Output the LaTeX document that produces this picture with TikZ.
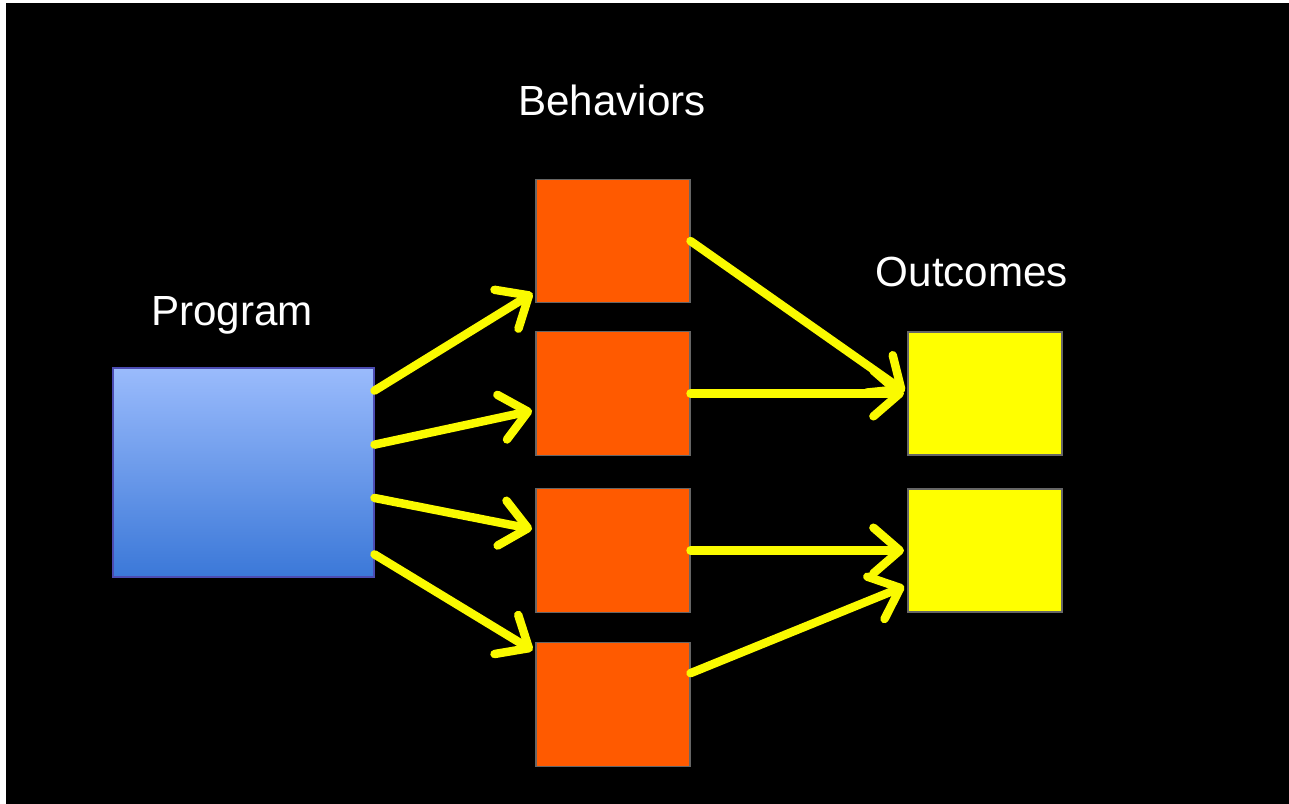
\documentclass[tikz,border=0pt]{standalone}
\usepackage{fontspec}
\setmainfont{Liberation Sans}
\usepackage{tikz}
\usetikzlibrary{
    positioning,
    arrows.meta
}
\definecolor{progtop}{HTML}{9ABBFC}
\definecolor{progbot}{HTML}{3B78D8}
\definecolor{behfill}{HTML}{FF5A00}
\definecolor{outfill}{HTML}{FFFF00}
\definecolor{linkcol}{HTML}{FAFA00}
\tikzset{
    >={Straight Barb[length=15pt,width=26pt,line cap=round,line join=round]},
    progbox/.style={
        rectangle,
        top color=progtop,
        bottom color=progbot,
        draw=gray!60!blue,
        line width=0.6pt,
        minimum width=5.22cm,
        minimum height=4.18cm
    },
    behbox/.style={
        rectangle,
        fill=behfill,
        draw=gray!80!black,
        line width=0.6pt,
        minimum width=3.08cm,
        minimum height=2.47cm
    },
    outbox/.style={
        rectangle,
        fill=outfill,
        draw=gray!80!black,
        line width=0.6pt,
        minimum width=3.08cm,
        minimum height=2.46cm
    },
    title/.style={
        text=white,
        font=\fontsize{24}{28}\selectfont
    },
    link/.style={
        ->,
        draw=linkcol,
        line width=4.8pt,
        line cap=round,
        shorten >=2pt
    }
}

\begin{document}
\begin{tikzpicture}[
    x=0.02cm,
    y=-0.02cm
]

    % Fondo
    \fill[white] (0,0) rectangle (1289,804);
    \fill[black] (6,3) rectangle (1289,804);

    % Titulos
    \node[title] (tprog) at (232,315) {Program};
    \node[title] (tbeh)  at (612,100) {Behaviors};
    \node[title] (tout)  at (972,272) {Outcomes};

    % Cajas
    \node[progbox] (prog) at (243.5,472.5) {};
    \node[behbox]  (beh1) at (613,241)   {};
    \node[behbox]  (beh2) at (613,393.5) {};
    \node[behbox]  (beh3) at (613,550.5) {};
    \node[behbox]  (beh4) at (613,704.5) {};
    \node[outbox]  (out1) at (985,393.5) {};
    \node[outbox]  (out2) at (985,550.5) {};

    % Flechas
    \draw[link] (prog.32)  -- (beh1.213);
    \draw[link] (prog.12)  -- (beh2.192);
    \draw[link] (prog.-11) -- (beh3.165);
    \draw[link] (prog.-32) -- (beh4.146);

    \draw[link] (beh1.east) -- (out1.west);
    \draw[link] (beh2.east) -- (out1.west);
    \draw[link] (beh3.east) -- (out2.west);
    \draw[link] (beh4.22)   -- (out2.204);

\end{tikzpicture}
\end{document}
